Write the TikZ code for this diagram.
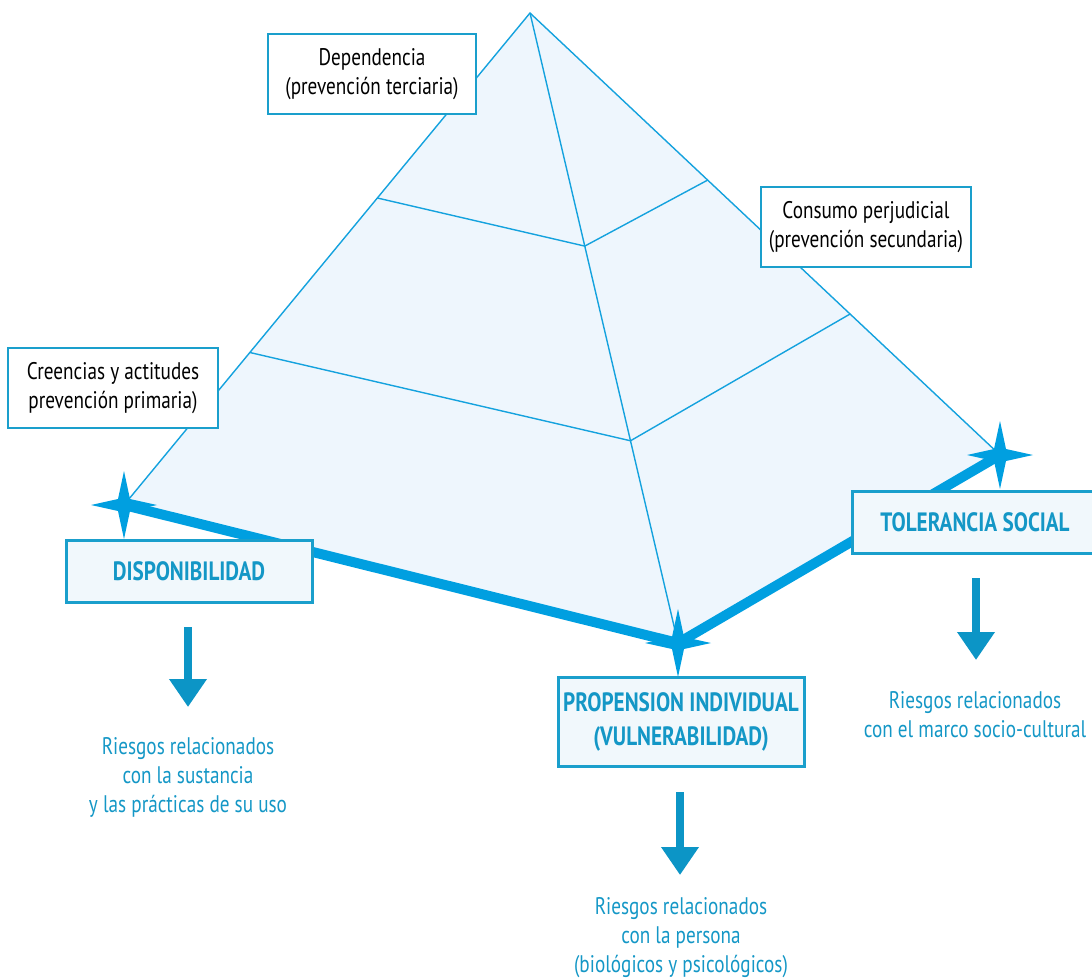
\documentclass[tikz,border=0pt]{standalone}
\usepackage{fontspec}
\setmainfont{PT Sans}[FakeStretch=0.8]
\usetikzlibrary{calc,arrows.meta}
\definecolor{edgeblue}{HTML}{14A2DE}
\definecolor{starblue}{HTML}{009FE0}
\definecolor{boxline}{HTML}{1A9FCC}
\definecolor{tealtext}{HTML}{1497C6}
\definecolor{arrowblue}{HTML}{0C95C6}
\definecolor{pyrfill}{HTML}{EEF6FD}
\definecolor{boxfill}{HTML}{F1F8FC}
\tikzset{
  pyredge/.style={draw=edgeblue, line width=1.4pt},
  levelbox/.style={draw=boxline, line width=2.6pt, fill=white, align=center,
    font=\fontsize{24}{29}\selectfont, text=black, minimum height=80pt, inner sep=2pt},
  factorbox/.style={draw=boxline, line width=3pt, fill=boxfill, align=center,
    font=\fontsize{26.5}{34}\selectfont\bfseries, text=tealtext, minimum height=62pt,
    minimum width=246pt, inner sep=2pt},
  risktext/.style={align=center, font=\fontsize{24}{29}\selectfont, text=tealtext},
  downarrow/.style={draw=arrowblue, line width=8pt,
    -{Triangle[width=36pt,length=28pt]}},
  basepath/.style={draw=starblue, line width=10pt, line join=round},
  star/.pic={\fill[starblue] (0,-34) -- (6,-6) -- (33,0) -- (6,6) -- (0,34)
    -- (-6,6) -- (-33,0) -- (-6,-6) -- cycle;}
}
\begin{document}
\begin{tikzpicture}[x=1pt,y=-1pt]
\useasboundingbox (0,0) rectangle (1092,978);
% pyramid corners
\coordinate (A) at (530,13);
\coordinate (L) at (124,505);
\coordinate (F) at (678,643);
\coordinate (R) at (1000,455);
% pyramid face
\fill[pyrfill] (A) -- (L) -- (F) -- (R) -- cycle;
\draw[pyredge] (L) -- (A) -- (R);
\draw[pyredge] (A) -- (F);
% level divisions
\coordinate (L1) at ($(A)!0.376!(L)$);
\coordinate (C1) at ($(A)!0.37!(F)$);
\coordinate (R1) at ($(A)!0.378!(R)$);
\coordinate (L2) at ($(A)!0.69!(L)$);
\coordinate (C2) at ($(A)!0.679!(F)$);
\coordinate (R2) at ($(A)!0.681!(R)$);
\draw[pyredge] (L1) -- (C1) -- (R1);
\draw[pyredge] (L2) -- (C2) -- (R2);
% base with star markers
\draw[basepath] (L) -- (F) -- (R);
\pic at (L) {star};
\pic at (F) {star};
\pic at (R) {star};
% level labels
\node[levelbox, minimum width=208pt] (dep) at (372,74) {Dependencia\\(prevención terciaria)};
\node[levelbox, minimum width=210pt] (con) at (866,227) {Consumo perjudicial\\(prevención secundaria)};
\node[levelbox, minimum width=210pt] (cre) at (113,388) {Creencias y actitudes\\prevención primaria)};
% factor boxes
\node[factorbox] (disp) at (189,571) {DISPONIBILIDAD};
\node[factorbox] (tol) at (975,522) {TOLERANCIA SOCIAL};
\node[factorbox, minimum height=89pt] (prop) at (681,722) {PROPENSION INDIVIDUAL\\(VULNERABILIDAD)};
% risks
\node[risktext] (rdisp) at (188,777) {Riesgos relacionados\\con la sustancia\\y las prácticas de su uso};
\node[risktext] (rtol) at (975,715) {Riesgos relacionados\\con el marco socio-cultural};
\node[risktext] (rprop) at (681,938) {Riesgos relacionados\\con la persona\\(biológicos y psicológicos)};
% arrows
\coordinate (d1) at (188,627); \coordinate (d2) at (188,707);
\coordinate (t1) at (976,578); \coordinate (t2) at (976,660);
\coordinate (p1) at (680,792); \coordinate (p2) at (680,875);
\draw[downarrow] (d1) -- (d2);
\draw[downarrow] (t1) -- (t2);
\draw[downarrow] (p1) -- (p2);
\end{tikzpicture}
\end{document}
